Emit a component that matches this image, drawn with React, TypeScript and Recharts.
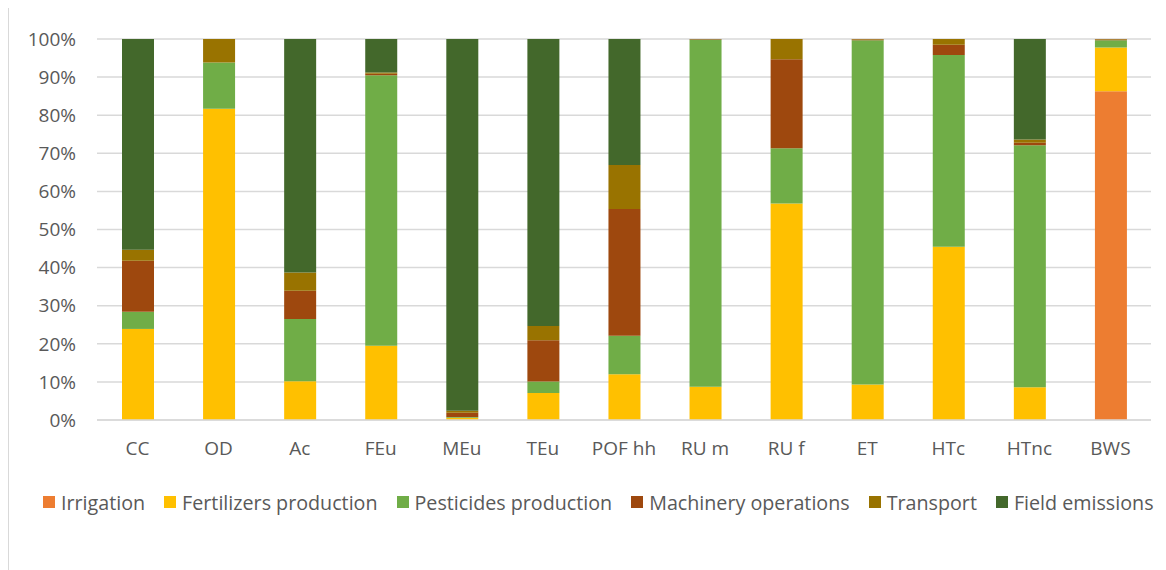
import { BarChart, Bar, XAxis, YAxis, CartesianGrid } from "recharts"

// impact categories
const categories = ["CC", "OD", "Ac", "FEu", "MEu", "TEu", "POF hh", "RU m", "RU f", "ET", "HTc", "HTnc", "BWS"]

// contribution of each stage, % of total per category
const irrigation = [0, 0, 0, 0, 0, 0, 0, 0, 0, 0, 0, 0, 86.3]
const fertilizers = [23.9, 81.7, 10.2, 19.5, 0.6, 7.1, 12.0, 8.7, 56.8, 9.3, 45.5, 8.6, 11.5]
const pesticides = [4.5, 12.1, 16.3, 71.0, 0.2, 3.0, 10.1, 91.2, 14.5, 90.4, 50.3, 63.5, 1.9]
const machinery = [13.4, 0, 7.4, 0.4, 1.1, 10.8, 33.3, 0.1, 23.4, 0.2, 2.7, 0.7, 0.2]
const transport = [2.9, 6.2, 4.8, 0.3, 0.5, 3.8, 11.5, 0, 5.3, 0.1, 1.5, 0.8, 0.1]
const fieldEmissions = [55.3, 0, 61.3, 8.8, 97.6, 75.3, 33.1, 0, 0, 0, 0, 26.4, 0]

const yTicks = [0, 10, 20, 30, 40, 50, 60, 70, 80, 90, 100]

const series = [
  { key: "irrigation", name: "Irrigation", color: "#ED7D31" },
  { key: "fertilizers", name: "Fertilizers production", color: "#FFC000" },
  { key: "pesticides", name: "Pesticides production", color: "#70AD47" },
  { key: "machinery", name: "Machinery operations", color: "#9E480E" },
  { key: "transport", name: "Transport", color: "#997300" },
  { key: "field", name: "Field emissions", color: "#43682B" },
]

const data = categories.map((name, i) => ({
  name,
  irrigation: irrigation[i],
  fertilizers: fertilizers[i],
  pesticides: pesticides[i],
  machinery: machinery[i],
  transport: transport[i],
  field: fieldEmissions[i],
}))

const font = "'Open Sans', sans-serif"
const textColor = "#595959"
const gridColor = "#D9D9D9"

export default function App() {
  return (
    <div style={{ position: "relative", width: 1150, height: 562, borderLeft: `1px solid ${gridColor}`, background: "#fff" }}>
      <BarChart
        width={1150}
        height={562}
        data={data}
        margin={{ top: 31, right: 8, left: 0, bottom: 0 }}
        barSize={32}
      >
        <CartesianGrid vertical={false} stroke={gridColor} strokeWidth={1.5} />
        <XAxis
          dataKey="name"
          tickLine={false}
          tickSize={0}
          tickMargin={22}
          height={150}
          axisLine={{ stroke: gridColor, strokeWidth: 1.5 }}
          tick={{ fill: textColor, fontSize: 19, fontFamily: font }}
          interval={0}
        />
        <YAxis
          width={88}
          domain={[0, 100]}
          ticks={yTicks}
          tickFormatter={(v) => `${v}%`}
          tickLine={false}
          tickSize={0}
          tickMargin={21}
          axisLine={false}
          tick={{ fill: textColor, fontSize: 19, fontFamily: font }}
        />
        {series.map((s) => (
          <Bar
            key={s.key}
            dataKey={s.key}
            name={s.name}
            stackId="a"
            fill={s.color}
            isAnimationActive={false}
          />
        ))}
      </BarChart>
      {/* legend, drawn below the plot */}
      <div
        style={{
          position: "absolute",
          top: 482,
          left: 34,
          height: 24,
          display: "flex",
          alignItems: "center",
          fontFamily: font,
          fontSize: 19.7,
          color: textColor,
          whiteSpace: "nowrap",
        }}
      >
        {series.map((s) => (
          <div key={s.key} style={{ display: "flex", alignItems: "center", marginRight: 19 }}>
            <span style={{ display: "inline-block", width: 12, height: 12, background: s.color, marginRight: 6 }} />
            <span>{s.name}</span>
          </div>
        ))}
      </div>
    </div>
  )
}
